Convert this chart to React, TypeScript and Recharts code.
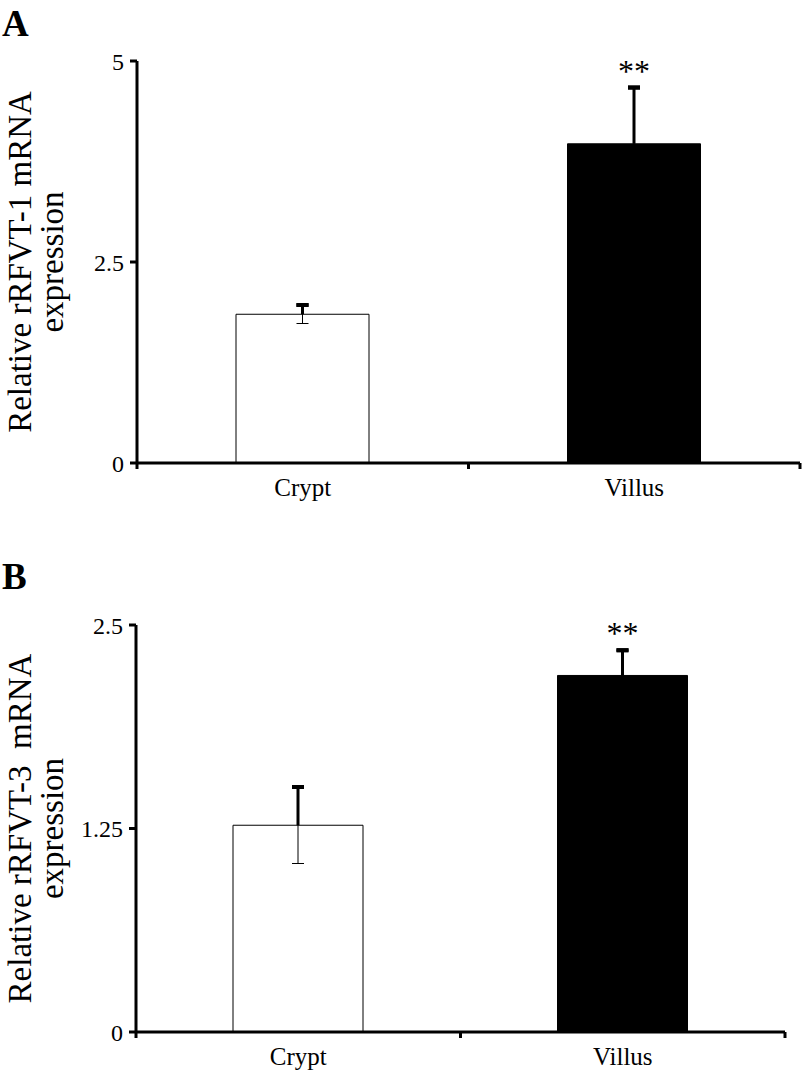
import { BarChart, Bar, XAxis, YAxis, ErrorBar, Cell, LabelList } from 'recharts'

// categories and colours shared by both panels
const categories = ['Crypt', 'Villus']
const fills = ['#ffffff', '#000000']

// panel A: rRFVT-1
const meanA = [1.85, 3.97]
const semA = [0.115, 0.7]
const sigA = ['', '**']
const ticksA = [0, 2.5, 5]

// panel B: rRFVT-3
const meanB = [1.27, 2.19]
const semB = [0.235, 0.155]
const sigB = ['', '**']
const ticksB = [0, 1.25, 2.5]

const FONT = '"Liberation Serif", "Times New Roman", serif'
const LABEL_GAP = 15

type Row = {
  name: string
  mean: number
  sem: number
  thin: number[]
  stem: number[]
  cap: number[]
  sig: string
}

const buildRows = (mean: number[], sem: number[], sig: string[]): Row[] =>
  categories.map((name, i) => ({
    name,
    mean: mean[i],
    sem: sem[i],
    // thin line across the whole range, thick stem above the bar, thick top cap
    thin: [sem[i], sem[i]],
    stem: [0, sem[i]],
    cap: [-sem[i], sem[i]],
    sig: sig[i],
  }))

const rowsA = buildRows(meanA, semA, sigA)
const rowsB = buildRows(meanB, semB, sigB)

const starLabel = (rows: Row[]) => (props: any) => {
  const vb = props.viewBox || props
  const x = Number(vb.x)
  const y = Number(vb.y)
  const w = Number(vb.width)
  const h = Number(vb.height)
  const row = rows[props.index]
  if (!row || !row.sig) return null
  const capY = y - (row.sem * h) / row.mean
  return (
    <text x={x + w / 2} y={capY - 6} textAnchor="middle" fontFamily={FONT} fontSize={32} fill="#000">
      {row.sig}
    </text>
  )
}

// category label plus tick marks at the band borders (Excel style)
const CategoryTick = (props: any) => {
  const { x, y, payload, index, visibleTicksCount } = props
  const half = Number(payload?.offset) || 0
  const axisY = y - LABEL_GAP
  const last = index === (visibleTicksCount ?? categories.length) - 1
  return (
    <g>
      {half > 0 && (
        <line x1={x - half} x2={x - half} y1={axisY} y2={axisY + 6} stroke="#000" strokeWidth={3} />
      )}
      {half > 0 && last && (
        <line x1={x + half} x2={x + half} y1={axisY} y2={axisY + 6} stroke="#000" strokeWidth={3} />
      )}
      <text x={x} y={y} dy="0.71em" textAnchor="middle" fontFamily={FONT} fontSize={25} fill="#000">
        {payload.value}
      </text>
    </g>
  )
}

const axisTitle = (line1: string, line2: string) => (props: any) => {
  const vb = props.viewBox
  const cy = vb.y + vb.height / 2
  return (
    <g>
      <text
        x={vb.x + 31}
        y={cy}
        transform={`rotate(-90 ${vb.x + 31} ${cy})`}
        textAnchor="middle"
        fontFamily={FONT}
        fontSize={33}
        fill="#000"
        style={{ whiteSpace: 'pre' }}
      >
        {line1}
      </text>
      <text
        x={vb.x + 63}
        y={cy}
        transform={`rotate(-90 ${vb.x + 63} ${cy})`}
        textAnchor="middle"
        fontFamily={FONT}
        fontSize={33}
        fill="#000"
      >
        {line2}
      </text>
    </g>
  )
}

interface PanelProps {
  rows: Row[]
  ticks: number[]
  width: number
  height: number
  margin: { top: number; right: number; bottom: number; left: number }
  yWidth: number
  barSize: number
  title1: string
  title2: string
}

function Panel({ rows, ticks, width, height, margin, yWidth, barSize, title1, title2 }: PanelProps) {
  const axisStroke = { stroke: '#000', strokeWidth: 3 }
  return (
    <BarChart width={width} height={height} data={rows} margin={margin} barSize={barSize}>
      <XAxis
        dataKey="name"
        height={40}
        axisLine={axisStroke}
        tickLine={false}
        tickSize={0}
        tickMargin={LABEL_GAP}
        tick={<CategoryTick />}
        interval={0}
      />
      <YAxis
        width={yWidth}
        domain={[ticks[0], ticks[ticks.length - 1]]}
        ticks={ticks}
        axisLine={axisStroke}
        tickLine={axisStroke}
        tickSize={7}
        tickMargin={6}
        tick={{ fontFamily: FONT, fontSize: 24, fill: '#000' }}
        label={axisTitle(title1, title2)}
      />
      <Bar dataKey="mean" stroke="#000" strokeWidth={1} isAnimationActive={false}>
        {rows.map((_, i) => (
          <Cell key={i} fill={fills[i]} />
        ))}
        <ErrorBar dataKey="thin" width={6} stroke="#000" strokeWidth={1} direction="y" />
        <ErrorBar dataKey="stem" width={0} stroke="#000" strokeWidth={3} direction="y" />
        <ErrorBar dataKey="cap" width={6} stroke="#000" strokeWidth={4} direction="y" />
        <LabelList dataKey="sig" content={starLabel(rows)} />
      </Bar>
    </BarChart>
  )
}

const letterStyle = {
  position: 'absolute' as const,
  left: 2,
  fontFamily: FONT,
  fontWeight: 'bold' as const,
  fontSize: 37,
  lineHeight: '37px',
  color: '#000',
}

export default function App() {
  return (
    <div style={{ position: 'absolute', left: 0, top: 0, width: 802, height: 1072, background: '#fff' }}>
      <div style={{ ...letterStyle, top: 5 }}>A</div>
      <div style={{ position: 'absolute', left: 0, top: 0 }}>
        <Panel
          rows={rowsA}
          ticks={ticksA}
          width={802}
          height={540}
          margin={{ top: 61, right: 2, bottom: 37, left: 0 }}
          yWidth={137}
          barSize={133}
          title1="Relative rRFVT-1 mRNA"
          title2="expression"
        />
      </div>
      <div style={{ ...letterStyle, top: 558 }}>B</div>
      <div style={{ position: 'absolute', left: 0, top: 560 }}>
        <Panel
          rows={rowsB}
          ticks={ticksB}
          width={802}
          height={512}
          margin={{ top: 65, right: 17, bottom: 0, left: 0 }}
          yWidth={136}
          barSize={130}
          title1="Relative rRFVT-3  mRNA"
          title2="expression"
        />
      </div>
    </div>
  )
}
